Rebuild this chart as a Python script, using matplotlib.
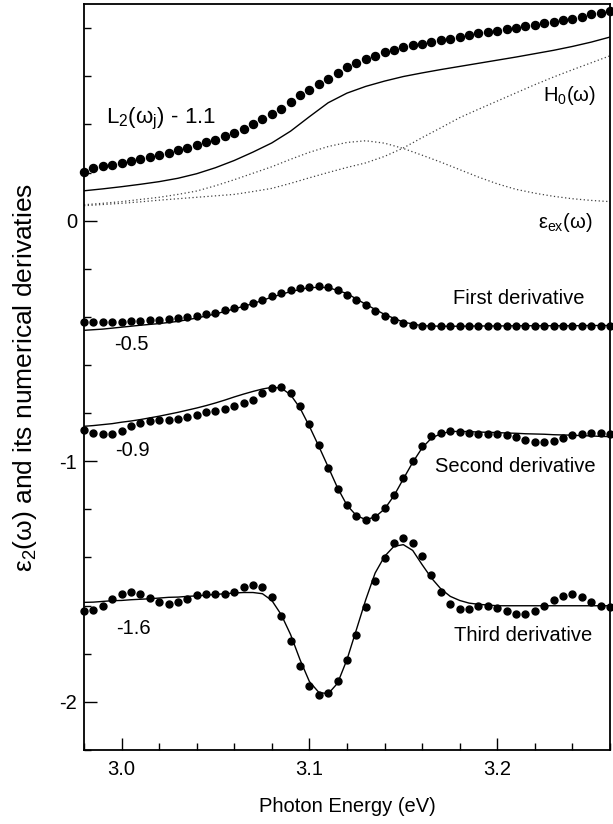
import numpy as np
import matplotlib
matplotlib.use("Agg")
import matplotlib.pyplot as plt
from matplotlib.ticker import MultipleLocator, FixedLocator

plt.rcParams['font.family'] = ['Liberation Sans', 'DejaVu Sans']
plt.rcParams['mathtext.fontset'] = 'custom'
plt.rcParams['mathtext.rm'] = 'Liberation Sans'
plt.rcParams['axes.unicode_minus'] = False

# photon energy grids (eV): 5 meV for dots and derivative fits, 10 meV for the rest
x_fine = np.round(np.arange(2.98, 3.2601, 0.005), 3)
x_coarse = np.round(np.arange(2.98, 3.2601, 0.01), 3)

# L2(wj) - 1.1 (dots)
top_dots = [0.204, 0.218, 0.225, 0.232, 0.239, 0.247, 0.257, 0.265, 0.273, 0.283,
            0.292, 0.302, 0.313, 0.326, 0.335, 0.352, 0.366, 0.382, 0.401, 0.422,
            0.443, 0.466, 0.494, 0.521, 0.545, 0.567, 0.590, 0.615, 0.639, 0.654,
            0.672, 0.686, 0.699, 0.710, 0.720, 0.728, 0.735, 0.742, 0.750, 0.757,
            0.764, 0.771, 0.778, 0.785, 0.790, 0.796, 0.801, 0.807, 0.814, 0.821,
            0.826, 0.833, 0.840, 0.848, 0.857, 0.865, 0.873]
# fit = H0 + eps_ex
top_fit = [0.124, 0.132, 0.141, 0.151, 0.162, 0.176, 0.195, 0.220, 0.250, 0.285,
           0.323, 0.372, 0.432, 0.490, 0.530, 0.558, 0.580, 0.599, 0.614, 0.628,
           0.641, 0.654, 0.667, 0.680, 0.694, 0.708, 0.724, 0.742, 0.763]
eps_ex = [0.066, 0.072, 0.079, 0.088, 0.097, 0.109, 0.123, 0.145, 0.170, 0.197,
          0.224, 0.255, 0.284, 0.308, 0.325, 0.332, 0.322, 0.300, 0.272, 0.243,
          0.212, 0.181, 0.153, 0.130, 0.114, 0.101, 0.091, 0.084, 0.079]
h0 = [0.062, 0.067, 0.072, 0.078, 0.085, 0.091, 0.097, 0.103, 0.109, 0.121,
      0.134, 0.155, 0.178, 0.200, 0.221, 0.240, 0.267, 0.302, 0.345, 0.386,
      0.428, 0.463, 0.497, 0.531, 0.565, 0.597, 0.627, 0.656, 0.685]

# first derivative (offset -0.5)
d1_dots = [-0.423, -0.423, -0.421, -0.421, -0.420, -0.419, -0.416, -0.414, -0.412, -0.409,
           -0.405, -0.401, -0.395, -0.390, -0.383, -0.373, -0.365, -0.355, -0.342, -0.329,
           -0.315, -0.301, -0.290, -0.280, -0.274, -0.273, -0.277, -0.290, -0.308, -0.329,
           -0.351, -0.374, -0.395, -0.412, -0.426, -0.435, -0.439, -0.440, -0.438, -0.438,
           -0.437, -0.438, -0.438, -0.437, -0.438, -0.438, -0.437, -0.438, -0.438, -0.437,
           -0.438, -0.438, -0.437, -0.438, -0.438, -0.437, -0.437]
d1_fit = [-0.456, -0.451, -0.443, -0.435, -0.428, -0.419, -0.405, -0.388, -0.367, -0.345,
          -0.318, -0.295, -0.278, -0.278, -0.303, -0.348, -0.390, -0.422, -0.437, -0.439,
          -0.439, -0.438, -0.438, -0.437, -0.437, -0.437, -0.437, -0.436, -0.436]

# second derivative (offset -0.9)
d2_dots = [-0.872, -0.883, -0.886, -0.886, -0.876, -0.855, -0.841, -0.834, -0.830, -0.827,
           -0.825, -0.816, -0.807, -0.797, -0.790, -0.783, -0.772, -0.758, -0.744, -0.717,
           -0.696, -0.692, -0.717, -0.772, -0.846, -0.934, -1.028, -1.116, -1.184, -1.229,
           -1.243, -1.232, -1.195, -1.139, -1.070, -1.001, -0.938, -0.897, -0.883, -0.876,
           -0.879, -0.883, -0.886, -0.887, -0.887, -0.890, -0.900, -0.911, -0.920, -0.922,
           -0.918, -0.904, -0.890, -0.886, -0.883, -0.883, -0.886]
d2_fit = [-0.855, -0.852, -0.848, -0.844, -0.838, -0.833, -0.827, -0.820, -0.813, -0.805,
          -0.797, -0.788, -0.779, -0.769, -0.758, -0.746, -0.733, -0.721, -0.710, -0.700,
          -0.693, -0.696, -0.724, -0.779, -0.855, -0.938, -1.024, -1.111, -1.183, -1.226,
          -1.243, -1.232, -1.199, -1.144, -1.074, -1.005, -0.945, -0.904, -0.886, -0.877,
          -0.876, -0.877, -0.879, -0.880, -0.881, -0.883, -0.884, -0.886, -0.887, -0.888,
          -0.890, -0.891, -0.892, -0.894, -0.895, -0.897, -0.898]

# third derivative (offset -1.6)
d3_dots = [-1.624, -1.620, -1.601, -1.573, -1.552, -1.545, -1.552, -1.569, -1.587, -1.593,
           -1.587, -1.572, -1.557, -1.552, -1.551, -1.551, -1.543, -1.525, -1.516, -1.523,
           -1.565, -1.645, -1.746, -1.853, -1.934, -1.974, -1.964, -1.913, -1.825, -1.723,
           -1.608, -1.500, -1.401, -1.340, -1.319, -1.340, -1.394, -1.475, -1.545, -1.594,
           -1.615, -1.613, -1.604, -1.601, -1.611, -1.624, -1.634, -1.634, -1.624, -1.604,
           -1.579, -1.559, -1.554, -1.565, -1.586, -1.601, -1.608]
d3_fit = [-1.587, -1.586, -1.583, -1.580, -1.579, -1.576, -1.574, -1.572, -1.569, -1.566,
          -1.565, -1.562, -1.560, -1.557, -1.554, -1.551, -1.548, -1.546, -1.546, -1.551,
          -1.579, -1.638, -1.721, -1.825, -1.916, -1.961, -1.967, -1.923, -1.825, -1.701,
          -1.576, -1.465, -1.396, -1.354, -1.347, -1.371, -1.430, -1.486, -1.531, -1.562,
          -1.579, -1.590, -1.595, -1.598, -1.601, -1.601, -1.601, -1.601, -1.601, -1.601,
          -1.601, -1.601, -1.601, -1.601, -1.601, -1.601, -1.601]

fig = plt.figure(figsize=(6.13, 8.24), dpi=100)
ax = fig.add_axes([0.137, 0.09, 0.858, 0.905])

dot_kw = dict(linestyle='none', marker='o', color='black', clip_on=False)
ax.plot(x_fine, top_dots, markersize=5.8, **dot_kw)
ax.plot(x_coarse, top_fit, color='black', lw=1.0)
ax.plot(x_coarse, eps_ex, color='0.25', lw=0.9, linestyle=(0, (1, 2)))
ax.plot(x_coarse, h0, color='0.25', lw=0.9, linestyle=(0, (1, 2)))

ax.plot(x_coarse, d1_fit, color='black', lw=1.0)
ax.plot(x_fine, d1_dots, markersize=5.0, **dot_kw)
ax.plot(x_fine, d2_fit, color='black', lw=1.0)
ax.plot(x_fine, d2_dots, markersize=5.0, **dot_kw)
ax.plot(x_fine, d3_fit, color='black', lw=1.0)
ax.plot(x_fine, d3_dots, markersize=5.0, **dot_kw)

fs = 14.5
ax.text(2.9917, 0.403, r'$\mathregular{L_2(ω_j)}$ - 1.1', fontsize=16, ha='left', va='baseline')
ax.text(3.2241, 0.496, r'$\mathregular{H_0(ω)}$', fontsize=fs, ha='left', va='baseline')
ax.text(3.2215, -0.029, r'$\mathregular{ε_{ex}(ω)}$', fontsize=fs, ha='left', va='baseline')
ax.text(3.1763, -0.345, 'First derivative', fontsize=fs, ha='left', va='baseline')
ax.text(3.1671, -1.046, 'Second derivative', fontsize=fs, ha='left', va='baseline')
ax.text(3.1768, -1.749, 'Third derivative', fontsize=fs, ha='left', va='baseline')
ax.text(2.996, -0.536, '-0.5', fontsize=fs, ha='left', va='baseline')
ax.text(2.9965, -0.980, '-0.9', fontsize=fs, ha='left', va='baseline')
ax.text(2.9972, -1.717, '-1.6', fontsize=fs, ha='left', va='baseline')

ax.set_xlim(2.98, 3.26)
ax.set_ylim(-2.2, 0.9)
ax.xaxis.set_major_locator(FixedLocator([3.0, 3.1, 3.2]))
ax.xaxis.set_minor_locator(MultipleLocator(0.02))
ax.set_xticklabels(['3.0', '3.1', '3.2'])
ax.yaxis.set_major_locator(FixedLocator([-2, -1, 0]))
ax.yaxis.set_minor_locator(MultipleLocator(0.2))
ax.set_yticklabels(['-2', '-1', '0'])
ax.tick_params(which='both', direction='in', labelsize=14.5, width=1.0)
ax.tick_params(which='major', length=9, pad=7)
ax.tick_params(which='minor', length=5)
ax.tick_params(axis='y', which='major', pad=5)
for s in ax.spines.values():
    s.set_linewidth(1.3)

ax.set_xlabel('Photon Energy (eV)', fontsize=14.5, labelpad=13)
ax.set_ylabel(r'$\mathregular{ε_2(ω)}$ and its numerical derivaties', fontsize=19)
ax.yaxis.set_label_coords(-0.0856, 0.5)

fig.savefig('out.png', dpi=100)
